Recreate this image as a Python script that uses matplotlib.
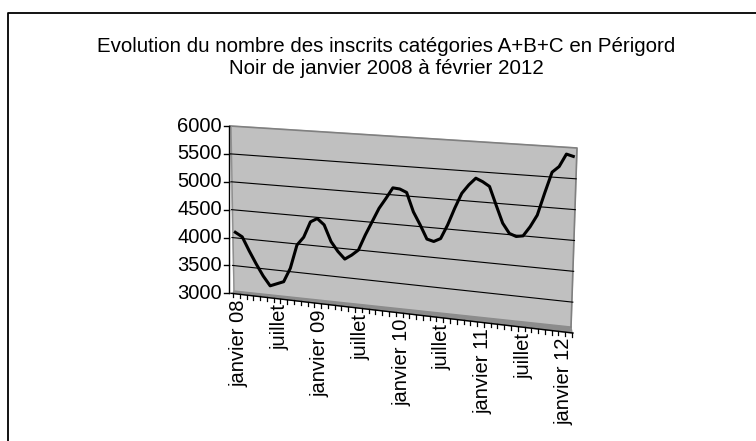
import matplotlib
matplotlib.use("Agg")
import matplotlib.pyplot as plt
import numpy as np

# Inscrits A+B+C, Périgord Noir, janvier 2008 -> février 2012 (one value per month)
values = [4100, 4030, 3790, 3570, 3370, 3210, 3260, 3310, 3560, 3980,
          4130, 4410, 4480, 4380, 4100, 3940, 3820, 3900, 4000, 4270,
          4510, 4750, 4930, 5120, 5110, 5060, 4740, 4530, 4300, 4270,
          4330, 4570, 4860, 5120, 5270, 5390, 5340, 5270, 4970, 4680,
          4520, 4480, 4500, 4660, 4860, 5230, 5580, 5680, 5890, 5860]
tick_labels = ["janvier 08", "juillet", "janvier 09", "juillet", "janvier 10",
               "juillet", "janvier 11", "juillet", "janvier 12"]
y_ticks = [3000, 3500, 4000, 4500, 5000, 5500, 6000]
title = ("Evolution du nombre des inscrits catégories A+B+C en Périgord\n"
         "Noir de janvier 2008 à février 2012")

plt.rcParams["font.family"] = ["Liberation Sans", "DejaVu Sans"]

n = len(values)
ymin, ymax = y_ticks[0], y_ticks[-1]

# pseudo-3D wall corners in figure pixels (Excel 3D line chart look)
TL, TR = np.array([230.0, 126.0]), np.array([577.0, 148.0])
BL, BR = np.array([233.0, 293.3]), np.array([572.0, 333.0])
WALL_BL, WALL_BR = np.array([234.0, 291.0]), np.array([571.0, 327.0])


def project(u, v):
    u = np.asarray(u, float)[..., None]
    v = np.asarray(v, float)[..., None]
    return (1 - u) * (1 - v) * BL + u * (1 - v) * BR + (1 - u) * v * TL + u * v * TR


fig = plt.figure(figsize=(7.56, 4.41), dpi=100)
ax = fig.add_axes([0, 0, 1, 1])
ax.set_xlim(0, 756)
ax.set_ylim(441, 0)
ax.axis("off")

# outer chart border (left and top only visible)
ax.plot([8, 8, 760], [445, 12.7, 12.7], color="black", lw=1.3, solid_capstyle="butt")

ax.text(386, 57.5, title, ha="center", va="center", fontsize=14.8, linespacing=1.2)

# back wall and floor strip
wall = np.array([TL, TR, WALL_BR, WALL_BL])
ax.fill(wall[:, 0], wall[:, 1], color="#c0c0c0", zorder=1)
floor = np.array([WALL_BL, WALL_BR, BR, BL])
ax.fill(floor[:, 0], floor[:, 1], color="#8c8c8c", zorder=1)
ax.plot([TL[0], TR[0], WALL_BR[0]], [TL[1], TR[1], WALL_BR[1]], color="#808080", lw=1.2, zorder=2)
ax.plot([TL[0] + 1, WALL_BL[0]], [TL[1], WALL_BL[1]], color="#909090", lw=1.0, zorder=2)

# gridlines
for t in y_ticks[1:-1]:
    v = (t - ymin) / (ymax - ymin)
    p = project([0.0, 1.0], [v, v])
    ax.plot(p[:, 0], p[:, 1], color="black", lw=0.8, zorder=2)

# value axis
ax.plot([229, 229], [TL[1], BL[1]], color="black", lw=1.0, zorder=3)
for t in y_ticks:
    v = (t - ymin) / (ymax - ymin)
    yy = project(0.0, v)[1]
    ax.plot([224, 229], [yy, yy], color="black", lw=1.0, zorder=3)
    ax.text(222, yy, str(t), ha="right", va="center", fontsize=14.5)

# category axis
ax.plot([BL[0] - 2, BR[0] + 1], [BL[1], BR[1]], color="black", lw=1.0, zorder=3)
for k in range(n + 1):
    p = project(k / n, 0.0)
    ax.plot([p[0], p[0]], [p[1], p[1] + 4], color="black", lw=0.9, zorder=3)
for j, lab in enumerate(tick_labels):
    i = 6 * j
    p = project((i + 0.5) / n, 0.0)
    ax.text(p[0] + 2.5, p[1] + 6, lab, rotation=90, ha="center", va="top", fontsize=14.5)

# data line
u = (np.arange(n) + 0.5) / n
v = (np.array(values) - ymin) / (ymax - ymin)
pts = project(u, v)
ax.plot(pts[:, 0], pts[:, 1], color="black", lw=2.2, solid_joinstyle="round", zorder=4)

fig.savefig("out.png", dpi=100)
